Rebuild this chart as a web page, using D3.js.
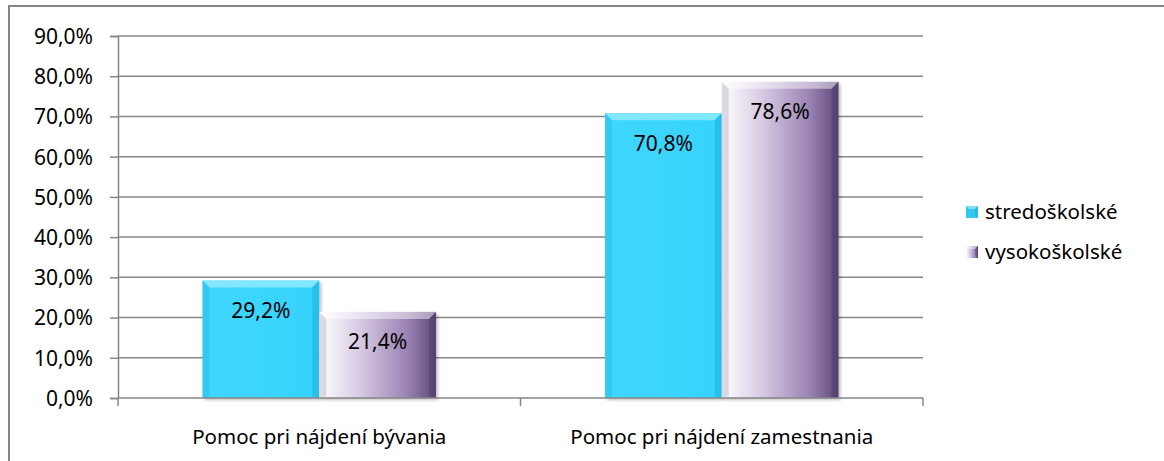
<!DOCTYPE html>
<html>
<head>
<meta charset="utf-8">
<script src="https://cdn.jsdelivr.net/npm/d3@7"></script>
<style>
  body { margin: 0; background: #fff; }
  svg text { font-family: "Noto Sans", "Open Sans", sans-serif; fill: #000; }
</style>
</head>
<body>
<div id="chart"></div>
<script>
const categories = ["Pomoc pri nájdení bývania", "Pomoc pri nájdení zamestnania"];
const seriesNames = ["stredoškolské", "vysokoškolské"];
const stredoskolske = [29.2, 70.8];
const vysokoskolske = [21.4, 78.6];
const yTicks = [0, 10, 20, 30, 40, 50, 60, 70, 80, 90];

const width = 1164, height = 461;
const plot = { left: 118, right: 923, top: 36, bottom: 398 };
const fmt = v => v.toFixed(1).replace(".", ",") + "%";

const svg = d3.select("#chart").append("svg")
  .attr("width", width).attr("height", height);

const defs = svg.append("defs");
const cyanGrad = defs.append("linearGradient").attr("id", "cyanGrad")
  .attr("x1", 0).attr("x2", 1).attr("y1", 0).attr("y2", 0);
cyanGrad.append("stop").attr("offset", 0).attr("stop-color", "#3fd6fd");
cyanGrad.append("stop").attr("offset", 1).attr("stop-color", "#36d3fc");
const purpleGrad = defs.append("linearGradient").attr("id", "purpleGrad")
  .attr("x1", 0).attr("x2", 1).attr("y1", 0).attr("y2", 0);
purpleGrad.append("stop").attr("offset", 0).attr("stop-color", "#ffffff");
purpleGrad.append("stop").attr("offset", 0.35).attr("stop-color", "#d6c9e2");
purpleGrad.append("stop").attr("offset", 0.75).attr("stop-color", "#9b84b4");
purpleGrad.append("stop").attr("offset", 1).attr("stop-color", "#5d4878");
const shadow = defs.append("filter").attr("id", "shadow")
  .attr("x", "-10%").attr("y", "-10%").attr("width", "130%").attr("height", "130%");
shadow.append("feDropShadow").attr("dx", 2).attr("dy", 2).attr("stdDeviation", 1.5)
  .attr("flood-color", "#000").attr("flood-opacity", 0.25);

// outer frame (top and left edges visible)
svg.append("path")
  .attr("d", `M9,${height + 2} L9,6 L${width + 2},6`)
  .attr("fill", "none").attr("stroke", "#868686").attr("stroke-width", 2);

const y = d3.scaleLinear().domain([0, 90]).range([plot.bottom, plot.top]);
const x0 = d3.scaleBand().domain(categories).range([plot.left, plot.right])
  .paddingInner(0.42).paddingOuter(0.21);
const x1 = d3.scaleBand().domain(seriesNames).range([0, x0.bandwidth()]);

// gridlines
svg.append("g").selectAll("line").data(yTicks.slice(1)).join("line")
  .attr("x1", plot.left).attr("x2", plot.right)
  .attr("y1", d => y(d)).attr("y2", d => y(d))
  .attr("stroke", "#868686").attr("stroke-width", 1.5);

// y axis
const yAxis = svg.append("g").attr("transform", `translate(${plot.left},0)`)
  .call(d3.axisLeft(y).tickValues(yTicks).tickSize(8).tickPadding(17).tickFormat(fmt));
yAxis.select(".domain").attr("stroke", "#868686").attr("stroke-width", 1.5);
yAxis.selectAll(".tick line").attr("stroke", "#868686").attr("stroke-width", 1.5);
yAxis.selectAll(".tick text").attr("font-size", 21).attr("dy", "0.35em")
  .style("font-family", '"Noto Sans", sans-serif');

// bars
const series = [
  { name: seriesNames[0], values: stredoskolske, fill: "url(#cyanGrad)", light: "#8eeaff", dark: "#19b4e0", legend: "#33c7f2" },
  { name: seriesNames[1], values: vysokoskolske, fill: "url(#purpleGrad)", light: "rgba(255,255,255,0.55)", dark: "rgba(60,40,90,0.45)", legend: "#a48fc0" }
];

const bev = 7;
categories.forEach((cat, ci) => {
  series.forEach(s => {
    const v = s.values[ci];
    const bx = x0(cat) + x1(s.name);
    const bw = x1.bandwidth();
    const by = y(v);
    const bh = plot.bottom - by;
    const g = svg.append("g");
    g.append("rect").attr("x", bx).attr("y", by).attr("width", bw).attr("height", bh)
      .attr("fill", s.fill).attr("filter", "url(#shadow)");
    // bevel: top
    g.append("polygon").attr("points",
      [[bx, by], [bx + bw, by], [bx + bw - bev, by + bev], [bx + bev, by + bev]].join(" "))
      .attr("fill", s.light).attr("opacity", 0.85);
    // left
    g.append("polygon").attr("points",
      [[bx, by], [bx + bev, by + bev], [bx + bev, by + bh - 2], [bx, by + bh]].join(" "))
      .attr("fill", s.dark).attr("opacity", 0.35);
    // right
    g.append("polygon").attr("points",
      [[bx + bw, by], [bx + bw - bev, by + bev], [bx + bw - bev, by + bh - 2], [bx + bw, by + bh]].join(" "))
      .attr("fill", s.dark).attr("opacity", 0.6);
    g.append("text").attr("x", bx + bw / 2).attr("y", by + 30)
      .attr("dy", "0.35em").attr("text-anchor", "middle").attr("font-size", 21)
      .text(fmt(v));
  });
});

// x axis
svg.append("line").attr("x1", plot.left).attr("x2", plot.right)
  .attr("y1", plot.bottom).attr("y2", plot.bottom)
  .attr("stroke", "#868686").attr("stroke-width", 1.5);
const boundaries = [plot.left, ...categories.slice(1).map(c => x0(c) - x0.step() * x0.paddingInner() / 2), plot.right];
svg.append("g").selectAll("line").data(boundaries).join("line")
  .attr("x1", d => d).attr("x2", d => d)
  .attr("y1", plot.bottom).attr("y2", plot.bottom + 8)
  .attr("stroke", "#868686").attr("stroke-width", 1.5);
svg.append("g").selectAll("text").data(categories).join("text")
  .attr("x", d => x0(d) + x0.bandwidth() / 2).attr("y", 437)
  .attr("dy", "0.35em").attr("text-anchor", "middle").attr("font-size", 20.5)
  .text(d => d);

// legend
const legend = svg.append("g").attr("transform", "translate(966,212)");
series.forEach((s, i) => {
  const lg = legend.append("g").attr("transform", `translate(0,${i * 40})`);
  lg.append("rect").attr("x", 0).attr("y", -6).attr("width", 12).attr("height", 12)
    .attr("fill", s.fill === "url(#cyanGrad)" ? s.legend : "url(#purpleGrad)");
  lg.append("polygon").attr("points", "0,-6 12,-6 9,-3 3,-3").attr("fill", s.light).attr("opacity", 0.8);
  lg.append("polygon").attr("points", "12,-6 12,6 9,3 9,-3").attr("fill", s.dark).attr("opacity", 0.6);
  lg.append("text").attr("x", 19).attr("y", 0).attr("dy", "0.35em")
    .attr("font-size", 20.5).text(s.name);
});
</script>
</body>
</html>
